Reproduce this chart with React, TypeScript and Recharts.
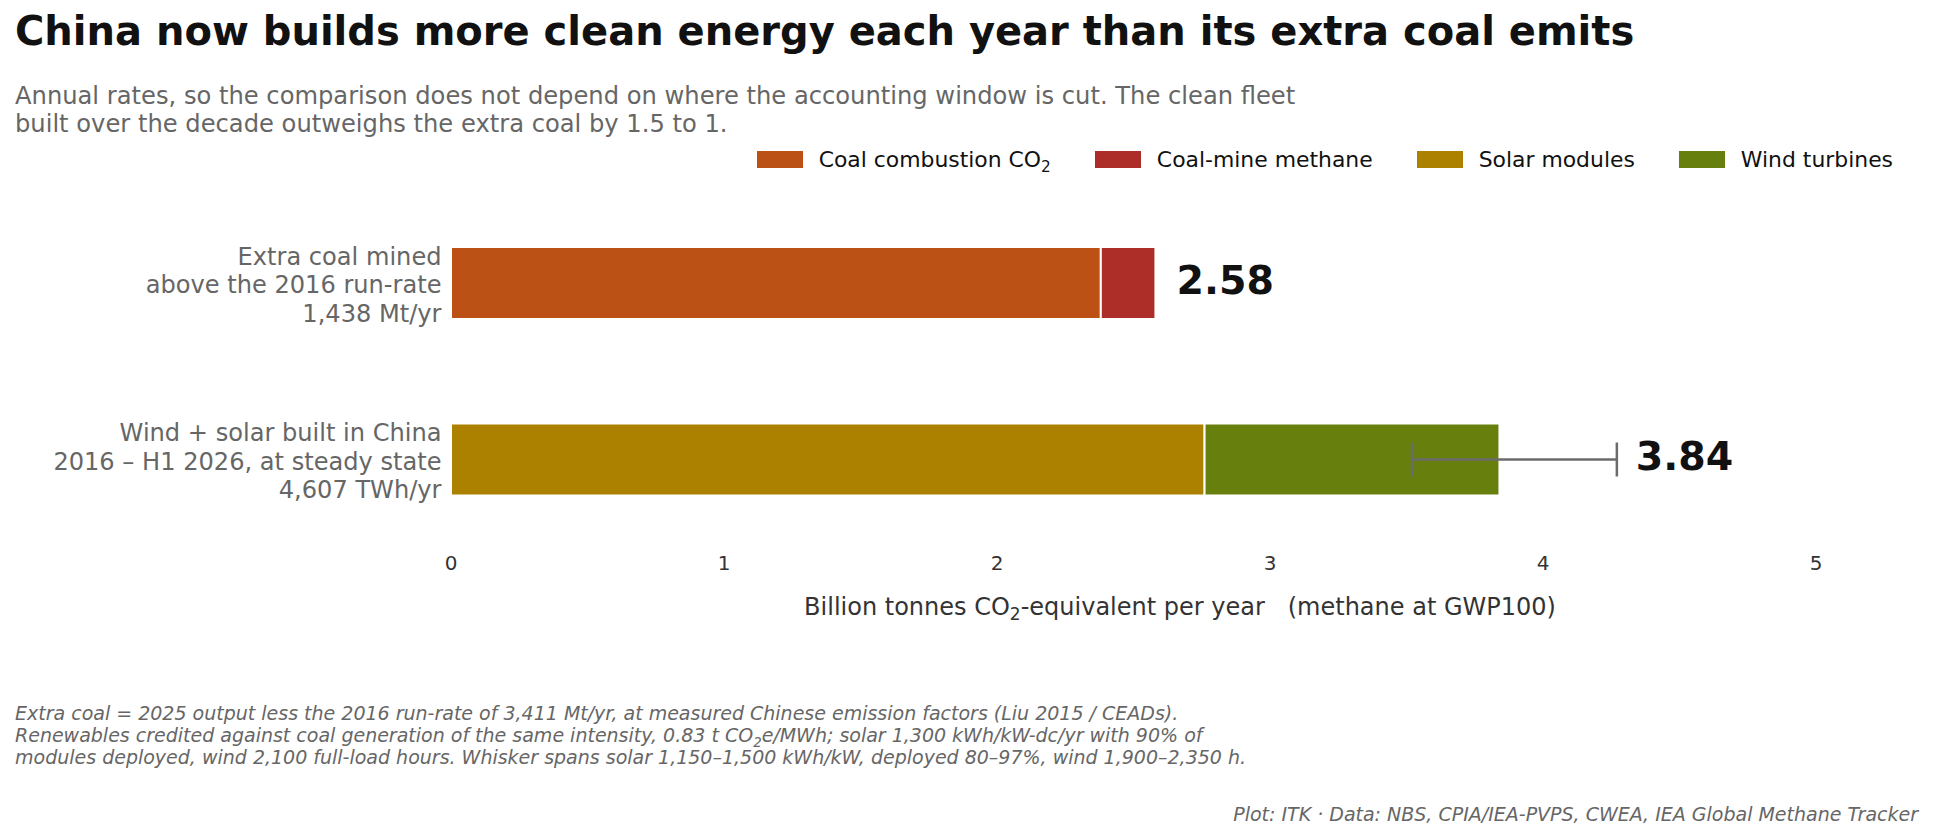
import React from 'react';
import { BarChart, Bar, XAxis, YAxis, Legend, LabelList, ErrorBar, Label } from 'recharts';

const FONT = '"DejaVu Sans", Verdana, sans-serif';

// rows of the chart
const categories = ['coal', 'clean'];
const categoryLines = [
  ['Extra coal mined', 'above the 2016 run-rate', '1,438 Mt/yr'],
  ['Wind + solar built in China', '2016 – H1 2026, at steady state', '4,607 TWh/yr'],
];

// billion tonnes CO2e per year
const coalCombustion = [2.38, null];
const coalMethane = [0.2, null];
const solarModules = [null, 2.76];
const windTurbines = [null, 1.08];
const totals = [2.58, 3.84];
const whiskerLow = [null, 3.52];
const whiskerHigh = [null, 4.27];

const xTicks = [0, 1, 2, 3, 4, 5];

const seriesKeys = ['combustion', 'methane', 'solar', 'wind'];
const seriesNames = ['Coal combustion CO2', 'Coal-mine methane', 'Solar modules', 'Wind turbines'];
const seriesColors = ['#BC5116', '#AD2D28', '#AD8100', '#677F0C'];
const seriesValues = [coalCombustion, coalMethane, solarModules, windTurbines];

const subtitleLines = [
  'Annual rates, so the comparison does not depend on where the accounting window is cut. The clean fleet',
  'built over the decade outweighs the extra coal by 1.5 to 1.',
];

const data = categories.map((c, i) => {
  const row: any = { category: c };
  seriesKeys.forEach((k, s) => {
    row[k] = seriesValues[s][i];
  });
  row.windErr =
    whiskerLow[i] == null ? null : [totals[i] - (whiskerLow[i] as number), (whiskerHigh[i] as number) - totals[i]];
  return row;
});

// splits "CO2" so the 2 can be set as a subscript
function withSub(text: string) {
  const parts = text.split('CO2');
  if (parts.length === 1) return text;
  return (
    <>
      {parts[0]}CO<sub style={{ fontSize: '70%', lineHeight: 0 }}>2</sub>
      {parts[1]}
    </>
  );
}

function CategoryTick(props: any) {
  const { x, y, payload } = props;
  const idx = categories.indexOf(payload.value);
  const lines = categoryLines[idx] || [];
  return (
    <text x={x} y={y} textAnchor="end" fontSize={24.1} fill="#666" fontFamily={FONT}>
      {lines.map((l, i) => (
        <tspan key={i} x={x} y={y + (i - 1) * 28.4 + 1.5} dy="0.35em">
          {l}
        </tspan>
      ))}
    </text>
  );
}

// total printed just past the end of the bar (or its whisker)
const renderTotal = (values: (number | null)[]) => (props: any) => {
  let val = props.value;
  if (Array.isArray(val)) val = val[1] - val[0];
  let row = values.findIndex((v) => v != null && Math.abs(v - Number(val)) < 1e-9);
  if (row < 0) row = props.index;
  const v = values[row];
  if (v == null) return null;
  const x = Number(props.x);
  const width = Number(props.width);
  const y = Number(props.y);
  const height = Number(props.height);
  if (!width) return null;
  const pxPerUnit = width / v;
  const hi = whiskerHigh[row];
  const reach = hi != null ? Math.max(0, hi - totals[row]) * pxPerUnit : 0;
  return (
    <text
      key={`total-${row}`}
      x={x + width + reach + (hi != null ? 19 : 21)}
      y={y + height / 2}
      dy="0.27em"
      fontSize={39.5}
      fontWeight="bold"
      fill="#111"
      fontFamily={FONT}
    >
      {totals[row].toFixed(2)}
    </text>
  );
};

function XTitle(props: any) {
  const vb = props.viewBox || { x: 451, y: 548, width: 1458 };
  return (
    <text x={vb.x + vb.width / 2} y={vb.y + 67} textAnchor="middle" fontSize={24} fill="#333" fontFamily={FONT}>
      <tspan>Billion tonnes CO</tspan>
      <tspan fontSize={17} dy={5}>2</tspan>
      <tspan dy={-5}>{'-equivalent per year\u00a0\u00a0\u00a0(methane at GWP100)'}</tspan>
    </text>
  );
}

function LegendContent() {
  return (
    <div
      style={{
        display: 'flex',
        justifyContent: 'flex-end',
        alignItems: 'center',
        height: 26,
        fontFamily: FONT,
        fontSize: 21.9,
        color: '#111',
      }}
    >
      {seriesNames.map((name, i) => (
        <div key={name} style={{ display: 'flex', alignItems: 'center', marginLeft: i === 0 ? 0 : 44 }}>
          <span style={{ width: 46, height: 17, background: seriesColors[i], marginRight: 16, display: 'inline-block' }} />
          <span style={{ whiteSpace: 'nowrap' }}>{withSub(name)}</span>
        </div>
      ))}
    </div>
  );
}

export default function App() {
  return (
    <div
      style={{
        position: 'absolute',
        left: 0,
        top: 0,
        width: 1933,
        height: 838,
        background: '#fff',
        fontFamily: FONT,
        overflow: 'hidden',
      }}
    >
      <BarChart
        width={1933}
        height={838}
        data={data}
        layout="vertical"
        margin={{ top: 195, right: 24, bottom: 260, left: 11 }}
      >
        <XAxis
          type="number"
          domain={[0, 5.34]}
          ticks={xTicks}
          interval={0}
          axisLine={false}
          tickLine={false}
          tick={{ fontSize: 20, fill: '#333', fontFamily: FONT }}
        >
          <Label content={XTitle} />
        </XAxis>
        <YAxis
          type="category"
          dataKey="category"
          width={440}
          axisLine={false}
          tickLine={false}
          tickSize={0}
          tickMargin={9.5}
          tick={<CategoryTick />}
        />
        <Legend
          layout="horizontal"
          verticalAlign="middle"
          align="center"
          wrapperStyle={{ top: 146, left: 740, width: 1153, height: 26 }}
          content={<LegendContent />}
        />
        {seriesKeys.map((k, s) => (
          <Bar
            key={k}
            dataKey={k}
            name={seriesNames[s]}
            stackId="total"
            fill={seriesColors[s]}
            stroke="#fff"
            strokeWidth={2}
            barSize={72}
            isAnimationActive={false}
          >
            {k === 'methane' && <LabelList dataKey={k} content={renderTotal(coalMethane)} />}
            {k === 'wind' && <LabelList dataKey={k} content={renderTotal(windTurbines)} />}
            {k === 'wind' && (
              <ErrorBar dataKey="windErr" direction="x" width={17} stroke="#6b6b6b" strokeWidth={2.5} />
            )}
          </Bar>
        ))}
      </BarChart>

      <div
        style={{
          position: 'absolute',
          left: 15,
          top: 7,
          fontSize: 40,
          lineHeight: '48px',
          fontWeight: 'bold',
          color: '#111',
          whiteSpace: 'nowrap',
        }}
      >
        China now builds more clean energy each year than its extra coal emits
      </div>
      <div
        style={{
          position: 'absolute',
          left: 15,
          top: 83,
          fontSize: 24.2,
          lineHeight: '27.5px',
          color: '#666',
          whiteSpace: 'nowrap',
        }}
      >
        {subtitleLines.map((l) => (
          <div key={l}>{l}</div>
        ))}
      </div>
      <div
        style={{
          position: 'absolute',
          left: 15,
          top: 702,
          fontSize: 19,
          lineHeight: '22.2px',
          fontStyle: 'italic',
          color: '#666',
          whiteSpace: 'nowrap',
        }}
      >
        <div>
          Extra coal = 2025 output less the 2016 run-rate of 3,411 Mt/yr, at measured Chinese emission factors (Liu 2015
          / CEADs).
        </div>
        <div>
          Renewables credited against coal generation of the same intensity, 0.83 t {withSub('CO2')}e/MWh; solar 1,300
          kWh/kW-dc/yr with 90% of
        </div>
        <div>
          modules deployed, wind 2,100 full-load hours. Whisker spans solar 1,150–1,500 kWh/kW, deployed 80–97%, wind
          1,900–2,350 h.
        </div>
      </div>
      <div
        style={{
          position: 'absolute',
          right: 15,
          top: 803,
          fontSize: 19,
          lineHeight: '22.2px',
          fontStyle: 'italic',
          color: '#666',
          whiteSpace: 'nowrap',
        }}
      >
        Plot: ITK · Data: NBS, CPIA/IEA-PVPS, CWEA, IEA Global Methane Tracker
      </div>
    </div>
  );
}
